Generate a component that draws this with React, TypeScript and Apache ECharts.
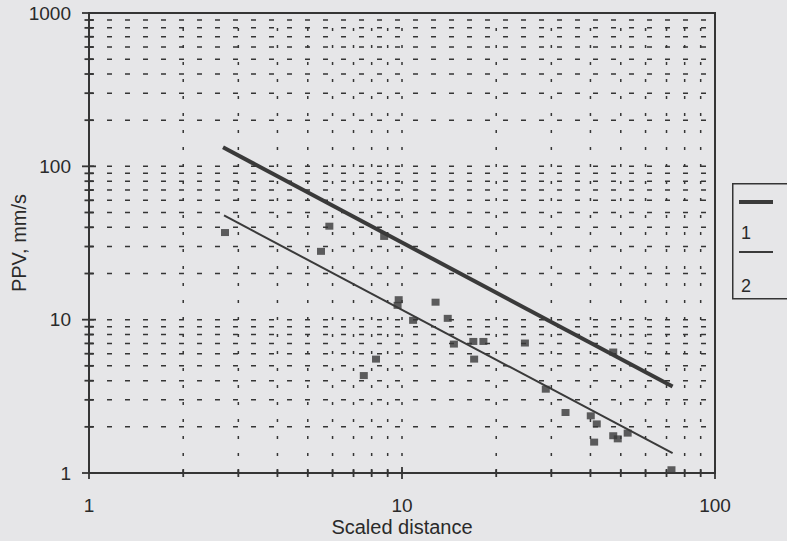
import React, { useEffect, useRef } from "react";
import * as echarts from "echarts";

// Scatter measurements: [scaled distance, PPV mm/s]
const measuredPoints: number[][] = [
  [2.72, 37.0],
  [5.86, 40.7],
  [5.51, 27.9],
  [8.77, 34.9],
  [9.76, 13.5],
  [9.68, 12.4],
  [12.8, 13.0],
  [10.85, 9.9],
  [14.0, 10.2],
  [14.65, 6.93],
  [16.9, 7.21],
  [18.2, 7.21],
  [17.0, 5.53],
  [8.26, 5.53],
  [7.55, 4.32],
  [24.7, 7.04],
  [47.3, 6.15],
  [28.8, 3.52],
  [33.3, 2.48],
  [40.1, 2.36],
  [41.9, 2.09],
  [41.1, 1.59],
  [47.3, 1.75],
  [48.9, 1.67],
  [52.6, 1.82],
  [72.6, 1.05],
];

// Regression lines (endpoints)
const line1: number[][] = [
  [2.68, 133],
  [73.2, 3.67],
];
const line2: number[][] = [
  [2.7, 47.8],
  [73.2, 1.346],
];

const legendLabels = ["1", "2"];
const xAxisName = "Scaled distance";
const yAxisName = "PPV, mm/s";

const xTickValues = [1, 2, 3, 4, 5, 6, 7, 8, 9, 10, 20, 30, 40, 50, 60, 70, 80, 90, 100];
const yTickValues = [
  1, 2, 3, 4, 5, 6, 7, 8, 9, 10, 20, 30, 40, 50, 60, 70, 80, 90, 100, 200, 300, 400, 500, 600,
  700, 800, 900, 1000,
];

const INK = "#353535";

function isMajor(v: number) {
  const l = Math.log10(v);
  return Math.abs(l - Math.round(l)) < 1e-9;
}

export default function App() {
  const ref = useRef<HTMLDivElement>(null);
  useEffect(() => {
    if (!ref.current) return;
    const chart = echarts.init(ref.current, null, { renderer: "svg" });

    const xGridData = xTickValues.map((v) => [v, 1]);
    const yGridData = yTickValues.map((v) => [1, v]);

    const textStyle = { fontFamily: "Liberation Sans", color: "#2a2a2a" };

    const option: any = {
      animation: false,
      backgroundColor: "transparent",
      grid: {
        left: 89,
        top: 13,
        right: 72,
        bottom: 68,
        containLabel: false,
        outerBoundsMode: "none",
        show: true,
        borderColor: INK,
        borderWidth: 2,
        backgroundColor: "transparent",
      },
      xAxis: {
        type: "log",
        logBase: 10,
        min: 1,
        max: 100,
        name: xAxisName,
        nameLocation: "middle",
        nameGap: 44,
        nameMoveOverlap: false,
        nameTextStyle: { ...textStyle, fontSize: 20 },
        axisLine: { lineStyle: { color: INK, width: 2 } },
        axisTick: { show: false },
        splitLine: { show: false },
        axisLabel: {
          ...textStyle,
          fontSize: 19,
          margin: 23,
          formatter: (v: number) => String(v),
        },
      },
      yAxis: {
        type: "log",
        logBase: 10,
        min: 1,
        max: 1000,
        name: yAxisName,
        nameLocation: "middle",
        nameGap: 60,
        nameMoveOverlap: false,
        nameTextStyle: { ...textStyle, fontSize: 20 },
        axisLine: { lineStyle: { color: INK, width: 2 } },
        axisTick: { show: false },
        splitLine: { show: false },
        axisLabel: {
          ...textStyle,
          fontSize: 19,
          margin: 18,
          formatter: (v: number) => String(v),
        },
      },
      series: [
        {
          type: "custom",
          z: 1,
          silent: true,
          encode: { x: 0, y: 1 },
          data: xGridData,
          renderItem: (params: any, api: any) => {
            const cs = params.coordSys;
            const v = api.value(0);
            const x = api.coord([v, 1])[0];
            const bottom = cs.y + cs.height;
            const len = isMajor(v) ? 6 : 4;
            const children: any[] = [];
            if (v > 1 && v < 100) {
              children.push({
                type: "line",
                shape: { x1: x, y1: bottom, x2: x, y2: cs.y },
                style: { stroke: INK, lineWidth: 1.5, lineDash: [3, 14] },
              });
            }
            children.push({
              type: "rect",
              shape: { x: x - 0.9, y: bottom - len, width: 1.8, height: len * 2 },
              style: { fill: INK, stroke: null },
            });
            return { type: "group", children };
          },
        },
        {
          type: "custom",
          z: 1,
          silent: true,
          encode: { x: 0, y: 1 },
          data: yGridData,
          renderItem: (params: any, api: any) => {
            const cs = params.coordSys;
            const v = api.value(1);
            const y = api.coord([1, v])[1];
            const len = isMajor(v) ? 7 : 4.5;
            const children: any[] = [];
            if (v > 1 && v < 1000) {
              children.push({
                type: "line",
                shape: { x1: cs.x, y1: y, x2: cs.x + cs.width, y2: y },
                style: { stroke: INK, lineWidth: 1.5, lineDash: [5, 13] },
              });
            }
            children.push({
              type: "rect",
              shape: { x: cs.x - len, y: y - 0.9, width: len * 2, height: 1.8 },
              style: { fill: INK, stroke: null },
            });
            return { type: "group", children };
          },
        },
        {
          type: "line",
          name: legendLabels[0],
          data: line1,
          symbol: "none",
          z: 3,
          lineStyle: { color: "#3a3a3a", width: 4 },
        },
        {
          type: "line",
          name: legendLabels[1],
          data: line2,
          symbol: "none",
          z: 3,
          lineStyle: { color: "#3a3a3a", width: 2 },
        },
        {
          type: "scatter",
          data: measuredPoints,
          symbol: "rect",
          symbolSize: [8, 7],
          z: 4,
          itemStyle: { color: "#383838" },
        },
      ],
      graphic: [
        {
          type: "rect",
          left: 732,
          top: 183,
          shape: { width: 70, height: 115 },
          style: { fill: "transparent", stroke: INK, lineWidth: 1.5 },
        },
        {
          type: "line",
          shape: { x1: 739, y1: 202, x2: 773, y2: 202 },
          style: { stroke: "#3a3a3a", lineWidth: 4 },
        },
        {
          type: "text",
          x: 741,
          y: 233,
          style: {
            text: legendLabels[0],
            fontFamily: "Liberation Sans",
            fontSize: 18,
            fill: "#2a2a2a",
            verticalAlign: "middle",
          },
        },
        {
          type: "line",
          shape: { x1: 739, y1: 252, x2: 773, y2: 252 },
          style: { stroke: "#3a3a3a", lineWidth: 2 },
        },
        {
          type: "text",
          x: 741,
          y: 286,
          style: {
            text: legendLabels[1],
            fontFamily: "Liberation Sans",
            fontSize: 18,
            fill: "#2a2a2a",
            verticalAlign: "middle",
          },
        },
      ],
    };
    chart.setOption(option);
    return () => chart.dispose();
  }, []);

  return (
    <div
      style={{
        position: "absolute",
        left: 0,
        top: 0,
        width: 787,
        height: 541,
        background: "#e6e6e8",
        overflow: "hidden",
      }}
    >
      <div ref={ref} style={{ width: 787, height: 541 }} />
    </div>
  );
}
